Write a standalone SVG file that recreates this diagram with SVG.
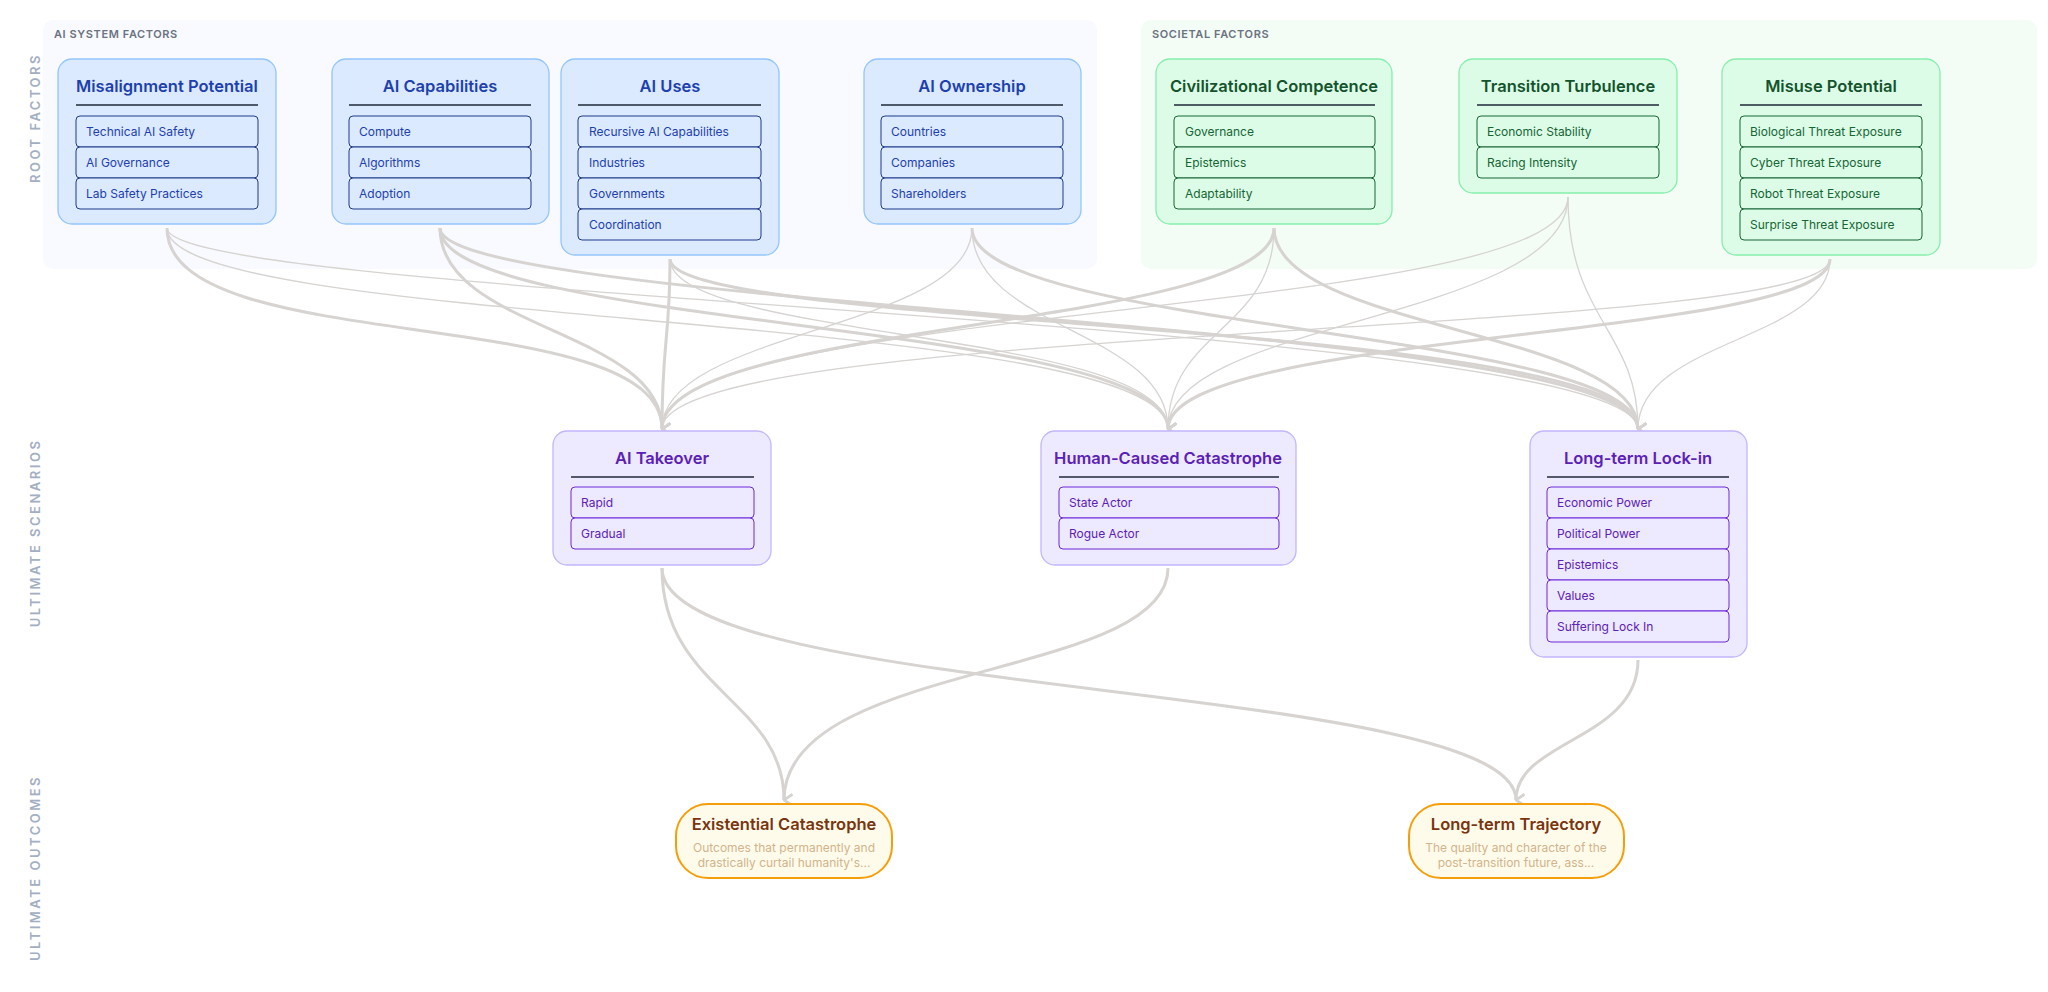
<svg xmlns="http://www.w3.org/2000/svg" width="2048" height="992" viewBox="0 0 2048 992">
<style>
text{font-family:Inter,"Noto Sans",sans-serif}
.pl{font-size:11px;font-weight:600;fill:#6b7280;letter-spacing:.6px}
.rl{font-size:13px;font-weight:600;fill:#a3aec2;letter-spacing:2.5px}
.bb{fill:#dbeafe;stroke:#93c5fd;stroke-width:1.3}
.bi{fill:#dbeafe;stroke:#1e3a8a;stroke-width:1}
.bt{font-size:16.5px;font-weight:600;fill:#1e40af;text-anchor:middle}
.bx{font-size:12px;fill:#1e40af}
.gb{fill:#dcfce7;stroke:#86efac;stroke-width:1.3}
.gi{fill:#dcfce7;stroke:#166534;stroke-width:1}
.gt{font-size:16.5px;font-weight:600;fill:#14532d;text-anchor:middle}
.gx{font-size:12px;fill:#166534}
.pb{fill:#ede9fe;stroke:#c4b5fd;stroke-width:1.3}
.pi{fill:#ede9fe;stroke:#6d28d9;stroke-width:1}
.pt{font-size:16.5px;font-weight:600;fill:#5b21b6;text-anchor:middle}
.px{font-size:12px;fill:#5b21b6}
.dv{stroke:#1f2937;stroke-width:1.3}
.ob{fill:#fffbeb;stroke:#f59e0b;stroke-width:2}
.ot{font-size:16.5px;font-weight:600;fill:#78350f;text-anchor:middle}
.od{font-size:12px;fill:#d2b48c;text-anchor:middle}
.e{fill:none;stroke:#d6d3d1}
.w{stroke-width:3}
.n{stroke-width:1.3}
</style>
<defs>
<marker id="a" viewBox="0 0 10 10" refX="5" refY="9" markerWidth="14" markerHeight="14" markerUnits="userSpaceOnUse" orient="auto-start-reverse">
<path d="M1,3 L5,9 L9,3" fill="none" stroke="#d6d3d1" stroke-width="1.8"/>
</marker>
</defs>
<rect x="43" y="20" width="1054" height="249" rx="10" fill="#f8faff"/>
<rect x="1141" y="20" width="896" height="249" rx="10" fill="#f3fcf5"/>
<text class="pl" x="54" y="38">AI SYSTEM FACTORS</text>
<text class="pl" x="1152" y="38">SOCIETAL FACTORS</text>
<text class="rl" transform="translate(40,118) rotate(-90)" text-anchor="middle">ROOT FACTORS</text>
<text class="rl" transform="translate(40,533) rotate(-90)" text-anchor="middle">ULTIMATE SCENARIOS</text>
<text class="rl" transform="translate(40,868) rotate(-90)" text-anchor="middle">ULTIMATE OUTCOMES</text>

<g id="edges">
<path class="e w" marker-end="url(#a)" d="M167,228 C167,360 662,300 662,429"/>
<path class="e n" marker-end="url(#a)" d="M167,228 C167,330 1168,310 1168,429"/>
<path class="e n" marker-end="url(#a)" d="M167,228 C167,300 1638,320 1638,429"/>
<path class="e w" marker-end="url(#a)" d="M440,228 C440,330 662,330 662,429"/>
<path class="e w" marker-end="url(#a)" d="M440,228 C440,330 1168,320 1168,429"/>
<path class="e w" marker-end="url(#a)" d="M440,228 C440,310 1638,320 1638,429"/>
<path class="e w" marker-end="url(#a)" d="M670,259 C670,340 662,340 662,429"/>
<path class="e n" marker-end="url(#a)" d="M670,259 C670,340 1168,330 1168,429"/>
<path class="e w" marker-end="url(#a)" d="M670,259 C670,330 1638,320 1638,429"/>
<path class="e n" marker-end="url(#a)" d="M972,228 C972,330 662,330 662,429"/>
<path class="e n" marker-end="url(#a)" d="M972,228 C972,330 1168,330 1168,429"/>
<path class="e w" marker-end="url(#a)" d="M972,228 C972,330 1638,330 1638,429"/>
<path class="e w" marker-end="url(#a)" d="M1274,228 C1274,330 662,320 662,429"/>
<path class="e n" marker-end="url(#a)" d="M1274,228 C1274,330 1168,330 1168,429"/>
<path class="e w" marker-end="url(#a)" d="M1274,228 C1274,330 1638,330 1638,429"/>
<path class="e n" marker-end="url(#a)" d="M1568,197 C1568,320 662,300 662,429"/>
<path class="e n" marker-end="url(#a)" d="M1568,197 C1568,320 1168,320 1168,429"/>
<path class="e n" marker-end="url(#a)" d="M1568,197 C1568,320 1638,330 1638,429"/>
<path class="e n" marker-end="url(#a)" d="M1830,259 C1830,340 662,320 662,429"/>
<path class="e w" marker-end="url(#a)" d="M1830,259 C1830,340 1168,330 1168,429"/>
<path class="e n" marker-end="url(#a)" d="M1830,259 C1830,340 1638,340 1638,429"/>
<path class="e w" marker-end="url(#a)" d="M662,568 C662,690 784,700 784,800"/>
<path class="e w" marker-end="url(#a)" d="M662,568 C662,700 1516,680 1516,800"/>
<path class="e w" marker-end="url(#a)" d="M1168,568 C1168,680 784,660 784,800"/>
<path class="e w" marker-end="url(#a)" d="M1638,660 C1638,740 1516,740 1516,800"/>
</g>

<g id="misalignment">
<rect class="bb" x="58" y="59" width="218" height="165" rx="14"/>
<text class="bt" x="167" y="92">Misalignment Potential</text>
<line class="dv" x1="76" y1="105" x2="258" y2="105"/>
<rect class="bi" x="76" y="116" width="182" height="31" rx="4"/><text class="bx" x="86" y="136">Technical AI Safety</text>
<rect class="bi" x="76" y="147" width="182" height="31" rx="4"/><text class="bx" x="86" y="167">AI Governance</text>
<rect class="bi" x="76" y="178" width="182" height="31" rx="4"/><text class="bx" x="86" y="198">Lab Safety Practices</text>
</g>
<g id="capabilities">
<rect class="bb" x="332" y="59" width="217" height="165" rx="14"/>
<text class="bt" x="440" y="92">AI Capabilities</text>
<line class="dv" x1="349" y1="105" x2="531" y2="105"/>
<rect class="bi" x="349" y="116" width="182" height="31" rx="4"/><text class="bx" x="359" y="136">Compute</text>
<rect class="bi" x="349" y="147" width="182" height="31" rx="4"/><text class="bx" x="359" y="167">Algorithms</text>
<rect class="bi" x="349" y="178" width="182" height="31" rx="4"/><text class="bx" x="359" y="198">Adoption</text>
</g>
<g id="uses">
<rect class="bb" x="561" y="59" width="218" height="196" rx="14"/>
<text class="bt" x="670" y="92">AI Uses</text>
<line class="dv" x1="578" y1="105" x2="761" y2="105"/>
<rect class="bi" x="578" y="116" width="183" height="31" rx="4"/><text class="bx" x="589" y="136">Recursive AI Capabilities</text>
<rect class="bi" x="578" y="147" width="183" height="31" rx="4"/><text class="bx" x="589" y="167">Industries</text>
<rect class="bi" x="578" y="178" width="183" height="31" rx="4"/><text class="bx" x="589" y="198">Governments</text>
<rect class="bi" x="578" y="209" width="183" height="31" rx="4"/><text class="bx" x="589" y="229">Coordination</text>
</g>
<g id="ownership">
<rect class="bb" x="864" y="59" width="217" height="165" rx="14"/>
<text class="bt" x="972" y="92">AI Ownership</text>
<line class="dv" x1="881" y1="105" x2="1063" y2="105"/>
<rect class="bi" x="881" y="116" width="182" height="31" rx="4"/><text class="bx" x="891" y="136">Countries</text>
<rect class="bi" x="881" y="147" width="182" height="31" rx="4"/><text class="bx" x="891" y="167">Companies</text>
<rect class="bi" x="881" y="178" width="182" height="31" rx="4"/><text class="bx" x="891" y="198">Shareholders</text>
</g>
<g id="civilizational">
<rect class="gb" x="1156" y="59" width="236" height="165" rx="14"/>
<text class="gt" x="1274" y="92">Civilizational Competence</text>
<line class="dv" x1="1174" y1="105" x2="1375" y2="105" stroke="#14532d"/>
<rect class="gi" x="1174" y="116" width="201" height="31" rx="4"/><text class="gx" x="1185" y="136">Governance</text>
<rect class="gi" x="1174" y="147" width="201" height="31" rx="4"/><text class="gx" x="1185" y="167">Epistemics</text>
<rect class="gi" x="1174" y="178" width="201" height="31" rx="4"/><text class="gx" x="1185" y="198">Adaptability</text>
</g>
<g id="transition">
<rect class="gb" x="1459" y="59" width="218" height="134" rx="14"/>
<text class="gt" x="1568" y="92">Transition Turbulence</text>
<line class="dv" x1="1477" y1="105" x2="1659" y2="105" stroke="#14532d"/>
<rect class="gi" x="1477" y="116" width="182" height="31" rx="4"/><text class="gx" x="1487" y="136">Economic Stability</text>
<rect class="gi" x="1477" y="147" width="182" height="31" rx="4"/><text class="gx" x="1487" y="167">Racing Intensity</text>
</g>
<g id="misuse">
<rect class="gb" x="1722" y="59" width="218" height="196" rx="14"/>
<text class="gt" x="1831" y="92">Misuse Potential</text>
<line class="dv" x1="1740" y1="105" x2="1922" y2="105" stroke="#14532d"/>
<rect class="gi" x="1740" y="116" width="182" height="31" rx="4"/><text class="gx" x="1750" y="136">Biological Threat Exposure</text>
<rect class="gi" x="1740" y="147" width="182" height="31" rx="4"/><text class="gx" x="1750" y="167">Cyber Threat Exposure</text>
<rect class="gi" x="1740" y="178" width="182" height="31" rx="4"/><text class="gx" x="1750" y="198">Robot Threat Exposure</text>
<rect class="gi" x="1740" y="209" width="182" height="31" rx="4"/><text class="gx" x="1750" y="229">Surprise Threat Exposure</text>
</g>

<g id="takeover">
<rect class="pb" x="553" y="431" width="218" height="134" rx="14"/>
<text class="pt" x="662" y="464">AI Takeover</text>
<line class="dv" x1="571" y1="477" x2="754" y2="477"/>
<rect class="pi" x="571" y="487" width="183" height="31" rx="4"/><text class="px" x="581" y="507">Rapid</text>
<rect class="pi" x="571" y="518" width="183" height="31" rx="4"/><text class="px" x="581" y="538">Gradual</text>
</g>
<g id="human">
<rect class="pb" x="1041" y="431" width="255" height="134" rx="14"/>
<text class="pt" x="1168" y="464">Human-Caused Catastrophe</text>
<line class="dv" x1="1059" y1="477" x2="1279" y2="477"/>
<rect class="pi" x="1059" y="487" width="220" height="31" rx="4"/><text class="px" x="1069" y="507">State Actor</text>
<rect class="pi" x="1059" y="518" width="220" height="31" rx="4"/><text class="px" x="1069" y="538">Rogue Actor</text>
</g>
<g id="lockin">
<rect class="pb" x="1530" y="431" width="217" height="226" rx="14"/>
<text class="pt" x="1638" y="464">Long-term Lock-in</text>
<line class="dv" x1="1547" y1="477" x2="1729" y2="477"/>
<rect class="pi" x="1547" y="487" width="182" height="31" rx="4"/><text class="px" x="1557" y="507">Economic Power</text>
<rect class="pi" x="1547" y="518" width="182" height="31" rx="4"/><text class="px" x="1557" y="538">Political Power</text>
<rect class="pi" x="1547" y="549" width="182" height="31" rx="4"/><text class="px" x="1557" y="569">Epistemics</text>
<rect class="pi" x="1547" y="580" width="182" height="31" rx="4"/><text class="px" x="1557" y="600">Values</text>
<rect class="pi" x="1547" y="611" width="182" height="31" rx="4"/><text class="px" x="1557" y="631">Suffering Lock In</text>
</g>

<g id="existential">
<rect class="ob" x="676" y="804" width="216" height="74" rx="32"/>
<text class="ot" x="784" y="830">Existential Catastrophe</text>
<text class="od" x="784" y="852">Outcomes that permanently and</text>
<text class="od" x="784" y="867">drastically curtail humanity's...</text>
</g>
<g id="trajectory">
<rect class="ob" x="1409" y="804" width="215" height="74" rx="32"/>
<text class="ot" x="1516" y="830">Long-term Trajectory</text>
<text class="od" x="1516" y="852">The quality and character of the</text>
<text class="od" x="1516" y="867">post-transition future, ass...</text>
</g>
</svg>
